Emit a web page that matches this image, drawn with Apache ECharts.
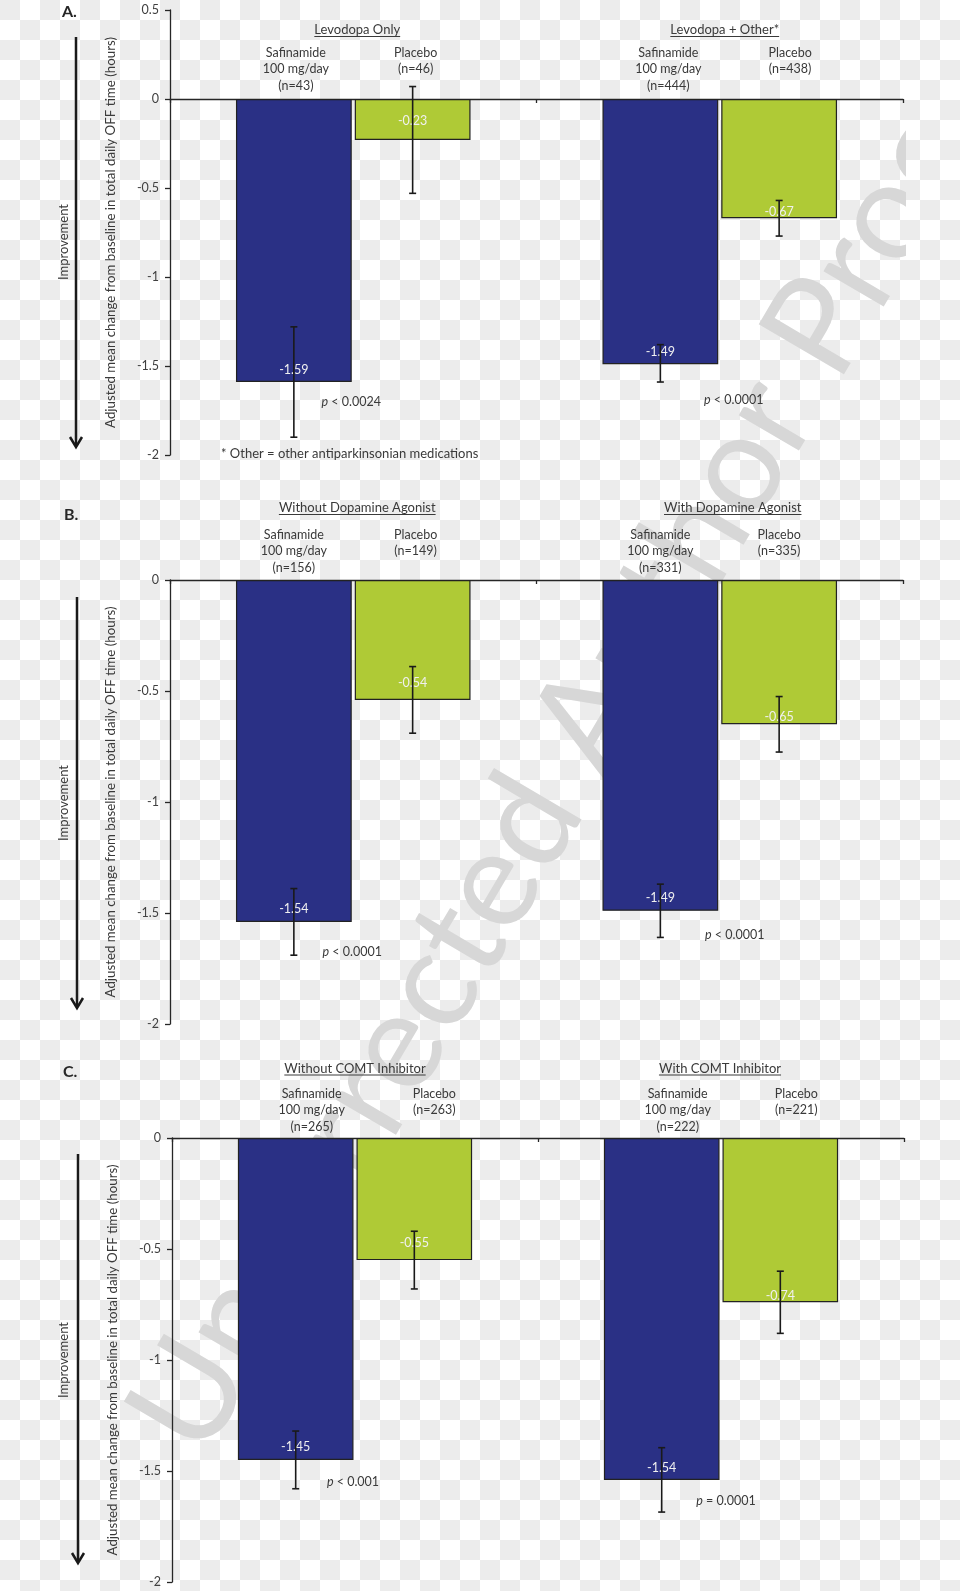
<!DOCTYPE html>
<html><head><meta charset="utf-8">
<script src="https://cdn.jsdelivr.net/npm/echarts@6/dist/echarts.min.js"></script>
<style>
html,body{margin:0;padding:0;}
body{width:960px;height:1591px;background-color:#fff;
background-image:conic-gradient(#fff 25%, #ececec 0 50%, #fff 0 75%, #ececec 0);
background-size:40px 40px;}
#c{width:906px;height:1591px;overflow:hidden;}
</style></head>
<body><div id="c"></div>
<script>
// ---------------- DATA ----------------
const panelLetters = ['A.', 'B.', 'C.'];
const groupsA = ['Levodopa Only', 'Levodopa + Other*'];
const groupsB = ['Without Dopamine Agonist', 'With Dopamine Agonist'];
const groupsC = ['Without COMT Inhibitor', 'With COMT Inhibitor'];

const safinamideA = [-1.59, -1.49];
const placeboA    = [-0.23, -0.67];
const safinamideB = [-1.54, -1.49];
const placeboB    = [-0.54, -0.65];
const safinamideC = [-1.45, -1.54];
const placeboC    = [-0.55, -0.74];

// error bars (lower, upper)
const safLowA = [-1.90, -1.59], safHighA = [-1.28, -1.38];
const plaLowA = [-0.53, -0.77], plaHighA = [0.07, -0.57];
const safLowB = [-1.69, -1.61], safHighB = [-1.39, -1.37];
const plaLowB = [-0.69, -0.775], plaHighB = [-0.39, -0.525];
const safLowC = [-1.58, -1.685], safHighC = [-1.32, -1.395];
const plaLowC = [-0.68, -0.88], plaHighC = [-0.42, -0.60];

const safNA = [43, 444], plaNA = [46, 438];
const safNB = [156, 331], plaNB = [149, 335];
const safNC = [265, 222], plaNC = [263, 221];

const pTextA = ['< 0.0024', '< 0.0001'];
const pTextB = ['< 0.0001', '< 0.0001'];
const pTextC = ['< 0.001', '= 0.0001'];

const yTicksA = [0.5, 0, -0.5, -1, -1.5, -2];
const yTicksBC = [0, -0.5, -1, -1.5, -2];

const safName = 'Safinamide';
const safDose = '100 mg/day';
const plaName = 'Placebo';
const yTitle = 'Adjusted mean change from baseline in total daily OFF time (hours)';
const arrowText = 'Improvement';
const footnote = '* Other = other antiparkinsonian medications';
const watermark = 'Uncorrected Author Proof';

// ---------------- LAYOUT / STYLE ----------------
const FONT = 'Lato';
const NAVY = '#2A3085', GREEN = '#AFCA36';
const TXT = '#3a3a3a';
const CAT_GAP = 0.36, BAR_GAP = 0.026;

const panels = [
  {groups: groupsA, saf: safinamideA, pla: placeboA, sl: safLowA, sh: safHighA, pl: plaLowA, ph: plaHighA,
   sn: safNA, pn: plaNA, p: pTextA, ticks: yTicksA,
   grid: {left: 170, top: 10, width: 733, height: 445},
   titleDy: -69, subDy: -46, titleDx: [4, 5], subDx: [[2, 3], [8, 11]],
   lblDist: {saf: [6, 6], pla: [12, 0]},
   pY: [-1.70, -1.69], pDx: [-2, 14],
   letter: [62, 12], arrow: [76, 37, 447], impr: [64, 242]},
  {groups: groupsB, saf: safinamideB, pla: placeboB, sl: safLowB, sh: safHighB, pl: plaLowB, ph: plaHighB,
   sn: safNB, pn: plaNB, p: pTextB, ticks: yTicksBC,
   grid: {left: 170, top: 580, width: 733, height: 444},
   titleDy: -72, subDy: -45, titleDx: [4, 13], subDx: [[0, 3], [0, 0]],
   lblDist: {saf: [6, 6], pla: [10, 1]},
   pY: [-1.676, -1.60], pDx: [-1, 15],
   letter: [64, 515], arrow: [77, 597, 1008], impr: [64, 803]},
  {groups: groupsC, saf: safinamideC, pla: placeboC, sl: safLowC, sh: safHighC, pl: plaLowC, ph: plaHighC,
   sn: safNC, pn: plaNC, p: pTextC, ticks: yTicksBC,
   grid: {left: 172, top: 1138, width: 732, height: 444},
   titleDy: -69.5, subDy: -44, titleDx: [0, -1], subDx: [[16, 20], [16, 16]],
   lblDist: {saf: [6, 5], pla: [11, 0]},
   pY: [-1.55, -1.635], pDx: [-2, 5],
   letter: [63, 1072], arrow: [78, 1154, 1563], impr: [64, 1360]}
];

function errRender(sign) {
  return function (params, api) {
    const cat = api.value(0);
    const lo = api.coord([cat, api.value(1)]);
    const hi = api.coord([cat, api.value(2)]);
    const band = api.size([1, 0])[0];
    const bw = band * (1 - CAT_GAP) / (2 + BAR_GAP);
    const x = lo[0] + sign * bw * (1 + BAR_GAP) / 2;
    const cap = 3.5;
    const style = {stroke: '#1a1a1a', lineWidth: 1.6};
    return {type: 'group', children: [
      {type: 'line', shape: {x1: x, y1: lo[1], x2: x, y2: hi[1]}, style: style},
      {type: 'line', shape: {x1: x - cap, y1: lo[1], x2: x + cap, y2: lo[1]}, style: style},
      {type: 'line', shape: {x1: x - cap, y1: hi[1], x2: x + cap, y2: hi[1]}, style: style}
    ]};
  };
}

const grids = [], xAxes = [], yAxes = [], series = [];
panels.forEach((P, i) => {
  grids.push(Object.assign({containLabel: false}, P.grid));
  xAxes.push({
    type: 'category', gridIndex: i, data: P.groups,
    axisLine: {onZero: true, lineStyle: {color: '#262626', width: 1.3}},
    axisTick: {show: true, length: 4, lineStyle: {color: '#262626', width: 1.3}},
    axisLabel: {show: false}, splitLine: {show: false}
  });
  yAxes.push({
    type: 'value', gridIndex: i,
    min: Math.min.apply(null, P.ticks), max: Math.max.apply(null, P.ticks), interval: 0.5,
    axisLine: {show: true, lineStyle: {color: '#262626', width: 1.3}},
    axisTick: {show: true, length: 5, lineStyle: {color: '#262626', width: 1.3}},
    axisLabel: {color: '#404040', fontSize: 12.5, margin: 11, fontFamily: FONT},
    splitLine: {show: false},
    name: yTitle, nameLocation: 'middle', nameRotate: 90, nameGap: 53,
    nameTextStyle: {color: TXT, fontSize: 13.3, fontFamily: FONT}
  });
  const lbl = {show: true, position: 'insideBottom', distance: 8, color: '#f0f0f0', fontSize: 12.5,
    fontFamily: FONT, formatter: p => p.value.toFixed(2)};
  series.push({
    type: 'bar', name: safName, xAxisIndex: i, yAxisIndex: i,
    data: P.saf.map((v, k) => ({value: v, label: {distance: P.lblDist.saf[k]}})),
    barCategoryGap: (CAT_GAP * 100) + '%', barGap: (BAR_GAP * 100) + '%',
    itemStyle: {color: NAVY, borderColor: '#222', borderWidth: 1.2}, label: lbl, z: 3
  });
  series.push({
    type: 'bar', name: plaName, xAxisIndex: i, yAxisIndex: i,
    data: P.pla.map((v, k) => ({value: v, label: {distance: P.lblDist.pla[k]}})),
    barCategoryGap: (CAT_GAP * 100) + '%', barGap: (BAR_GAP * 100) + '%',
    itemStyle: {color: GREEN, borderColor: '#222', borderWidth: 1.2}, label: lbl, z: 3
  });
  series.push({
    type: 'custom', xAxisIndex: i, yAxisIndex: i, renderItem: errRender(-1), z: 6,
    data: P.saf.map((v, k) => [k, P.sl[k], P.sh[k]])
  });
  series.push({
    type: 'custom', xAxisIndex: i, yAxisIndex: i, renderItem: errRender(1), z: 6,
    data: P.pla.map((v, k) => [k, P.pl[k], P.ph[k]])
  });
});

const chart = echarts.init(document.getElementById('c'), null, {renderer: 'canvas'});
chart.setOption({
  backgroundColor: 'transparent',
  animation: false,
  textStyle: {fontFamily: FONT},
  grid: grids, xAxis: xAxes, yAxis: yAxes, series: series
});

// ---------------- ANNOTATIONS ----------------
const mctx = document.createElement('canvas').getContext('2d');
function textW(t, size) { mctx.font = size + 'px ' + FONT; return mctx.measureText(t).width; }

const g = [];
// watermark
g.push({type: 'text', x: 165, y: 1439, rotation: 59.5 * Math.PI / 180, z: -10, silent: true,
  style: {text: watermark, font: '138px ' + FONT, fill: '#d7d7d7', align: 'left', verticalAlign: 'middle'}});

panels.forEach((P, i) => {
  const fi = {xAxisIndex: i, yAxisIndex: i};
  const zeroY = chart.convertToPixel(fi, [0, 0])[1];
  const band = chart.convertToPixel(fi, [1, 0])[0] - chart.convertToPixel(fi, [0, 0])[0];
  const bw = band * (1 - CAT_GAP) / (2 + BAR_GAP);
  const off = bw * (1 + BAR_GAP) / 2;
  P.groups.forEach((name, k) => {
    const cx = chart.convertToPixel(fi, [k, 0])[0];
    const ty = zeroY + P.titleDy;
    const tx = cx + P.titleDx[k];
    const w = textW(name, 13);
    g.push({type: 'text', x: tx, y: ty, z: 20,
      style: {text: name, fontSize: 13, fontFamily: FONT, fill: TXT, align: 'center', verticalAlign: 'middle'}});
    g.push({type: 'line', z: 20, shape: {x1: tx - w / 2, y1: ty + 6.5, x2: tx + w / 2, y2: ty + 6.5},
      style: {stroke: TXT, lineWidth: 1}});
    g.push({type: 'text', x: cx - off + P.subDx[k][0], y: zeroY + P.subDy - 8.3, z: 20,
      style: {text: safName + '\n' + safDose + '\n(n=' + P.sn[k] + ')', fontSize: 12.5, fontFamily: FONT,
        fill: TXT, align: 'center', verticalAlign: 'top', lineHeight: 16.5}});
    g.push({type: 'text', x: cx + off + P.subDx[k][1], y: zeroY + P.subDy - 8.3, z: 20,
      style: {text: plaName + '\n(n=' + P.pn[k] + ')', fontSize: 12.5, fontFamily: FONT,
        fill: TXT, align: 'center', verticalAlign: 'top', lineHeight: 16.5}});
    const pp = chart.convertToPixel(fi, [k, P.pY[k]]);
    g.push({type: 'text', x: pp[0] + P.pDx[k], y: pp[1], z: 20,
      style: {text: '{i|p} ' + P.p[k], fontSize: 12.5, fontFamily: FONT, fill: TXT,
        align: 'center', verticalAlign: 'middle',
        rich: {i: {fontStyle: 'italic', fontSize: 12.5, fontFamily: FONT, fill: TXT}}}});
  });
  // panel letter
  g.push({type: 'text', x: P.letter[0], y: P.letter[1], z: 20,
    style: {text: panelLetters[i], font: 'bold 16px ' + FONT, fill: '#262626', align: 'left', verticalAlign: 'middle'}});
  // arrow
  const ax = P.arrow[0], a1 = P.arrow[1], a2 = P.arrow[2];
  g.push({type: 'line', z: 20, shape: {x1: ax, y1: a1, x2: ax, y2: a2 - 1}, style: {stroke: '#1a1a1a', lineWidth: 2.5}});
  g.push({type: 'polyline', z: 20, shape: {points: [[ax - 6, a2 - 10], [ax, a2], [ax + 6, a2 - 10]]},
    style: {stroke: '#1a1a1a', lineWidth: 2.5, fill: null}});
  g.push({type: 'text', x: P.impr[0], y: P.impr[1], rotation: Math.PI / 2, z: 20,
    style: {text: arrowText, fontSize: 13, fontFamily: FONT, fill: TXT, align: 'center', verticalAlign: 'middle'}});
});
// footnote
g.push({type: 'text', x: 221, y: 454, z: 20,
  style: {text: footnote, fontSize: 13, fontFamily: FONT, fill: TXT, align: 'left', verticalAlign: 'middle'}});

chart.setOption({graphic: {elements: g}});
</script>
</body></html>
